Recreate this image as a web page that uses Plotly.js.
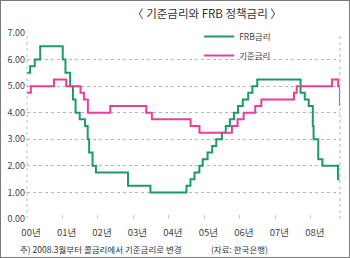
<!DOCTYPE html>
<html>
<head>
<meta charset="utf-8">
<script src="https://cdn.plot.ly/plotly-3.0.1.min.js"></script>
<style>
html,body{margin:0;padding:0;background:#fff;}
#wrap{position:relative;width:350px;height:258px;}
#chart{position:absolute;left:0;top:0;width:350px;height:258px;}
#frame{position:absolute;left:0;top:0;width:350px;height:258px;box-sizing:border-box;border:1.5px solid #7a7a7a;pointer-events:none;}
</style>
</head>
<body>
<div id="wrap"><div id="chart"></div><div id="frame"></div></div>
<script>
// FRB policy rate (step changes)
const frbDates = ['2000-01-01','2000-02-02','2000-03-21','2000-05-16','2001-01-03','2001-01-31','2001-03-20','2001-04-18','2001-05-15','2001-06-27','2001-08-21','2001-09-17','2001-10-02','2001-11-06','2001-12-11','2002-11-06','2003-06-25','2004-06-30','2004-08-10','2004-09-21','2004-11-10','2004-12-14','2005-02-02','2005-03-22','2005-05-03','2005-06-30','2005-08-09','2005-09-20','2005-11-01','2005-12-13','2006-01-31','2006-03-28','2006-05-10','2006-06-29','2007-09-18','2007-10-31','2007-12-11','2008-01-22','2008-01-30','2008-03-18','2008-04-30','2008-10-08','2008-10-22'];
const frbRates = [5.5,5.75,6.0,6.5,6.0,5.5,5.0,4.5,4.0,3.75,3.5,3.0,2.5,2.0,1.75,1.25,1.0,1.25,1.5,1.75,2.0,2.25,2.5,2.75,3.0,3.25,3.5,3.75,4.0,4.25,4.5,4.75,5.0,5.25,4.75,4.5,4.25,3.5,3.0,2.25,2.0,1.5,1.5];
// Bank of Korea base (call) rate
const bokDates = ['2000-01-01','2000-02-10','2000-10-05','2001-02-08','2001-07-05','2001-08-09','2001-09-19','2002-05-07','2003-05-13','2003-07-10','2004-08-12','2004-11-11','2005-10-11','2005-12-08','2006-02-09','2006-06-08','2006-08-10','2007-07-12','2007-08-09','2008-08-07','2008-10-09','2008-10-27'];
const bokRates = [4.75,5.0,5.25,5.0,4.75,4.5,4.0,4.25,4.0,3.75,3.5,3.25,3.5,3.75,4.0,4.25,4.5,4.75,5.0,5.25,5.0,4.25];
const seriesNames = ['FRB금리','기준금리'];
const tickYears = ['2000-01-01','2001-01-01','2002-01-01','2003-01-01','2004-01-01','2005-01-01','2006-01-01','2007-01-01','2008-01-01'];
const tickLabels = ['00년','01년','02년','03년','04년','05년','06년','07년','08년'];

const F = '"Noto Sans CJK KR", "Noto Sans", sans-serif';
const traces = [
  {x: frbDates, y: frbRates, name: seriesNames[0], type: 'scatter', mode: 'lines',
   line: {color: '#1d9a66', width: 2, shape: 'hv'}},
  {x: bokDates, y: bokRates, name: seriesNames[1], type: 'scatter', mode: 'lines',
   line: {color: '#e8409a', width: 2, shape: 'hv'}}
];
const layout = {
  width: 350, height: 258,
  margin: {l: 27, r: 10, t: 33, b: 39},
  paper_bgcolor: 'rgba(0,0,0,0)', plot_bgcolor: '#fff',
  font: {family: F, size: 9, color: '#444'},
  title: {text: '〈 기준금리와 FRB 정책금리 〉', font: {family: F, size: 11.5, color: '#333'},
          x: 0.575, xref: 'paper', xanchor: 'center', y: 0.945, yanchor: 'middle'},
  xaxis: {type: 'date', range: ['2000-01-01', '2008-10-28'], tickvals: tickYears, ticktext: tickLabels,
          showgrid: false, zeroline: false, showline: false, ticks: 'inside', ticklen: 4,
          tickcolor: '#c8c8c8', tickfont: {family: F, size: 9.5, color: '#444'}, ticklabelshift: 4,
          ticklabelstandoff: 6},
  yaxis: {range: [0, 7], dtick: 1, tick0: 0, tickformat: '.2f', showgrid: true, gridcolor: '#b5b5b5',
          griddash: 'dot', gridwidth: 1, zeroline: false, showline: false, ticks: '',
          tickfont: {family: F, size: 9, color: '#444'}, ticklabelstandoff: 1},
  showlegend: true,
  legend: {x: 0.55, y: 0.93, xanchor: 'left', yanchor: 'middle', bgcolor: 'rgba(0,0,0,0)',
           font: {family: F, size: 8.5, color: '#444'}, tracegroupgap: 0, itemwidth: 30},
  shapes: [
    {type: 'line', xref: 'paper', yref: 'paper', x0: 0, x1: 0, y0: 0, y1: 1, line: {color: '#c0c0c0', width: 1, dash: 'dot'}},
    {type: 'line', xref: 'paper', yref: 'paper', x0: 1, x1: 1, y0: 0, y1: 1, line: {color: '#b5b5b5', width: 1, dash: 'dot'}}
  ],
  annotations: [
    {text: '주) 2008.3월부터 콜금리에서 기준금리로 변경', xref: 'paper', yref: 'paper', x: -0.03, y: -0.162,
     xanchor: 'left', yanchor: 'middle', showarrow: false, font: {family: F, size: 8.5, color: '#333'}},
    {text: '(자료: 한국은행)', xref: 'paper', yref: 'paper', x: 0.582, y: -0.162,
     xanchor: 'left', yanchor: 'middle', showarrow: false, font: {family: F, size: 8.5, color: '#333'}}
  ]
};
Plotly.newPlot('chart', traces, layout, {staticPlot: true, displayModeBar: false});
</script>
</body>
</html>
